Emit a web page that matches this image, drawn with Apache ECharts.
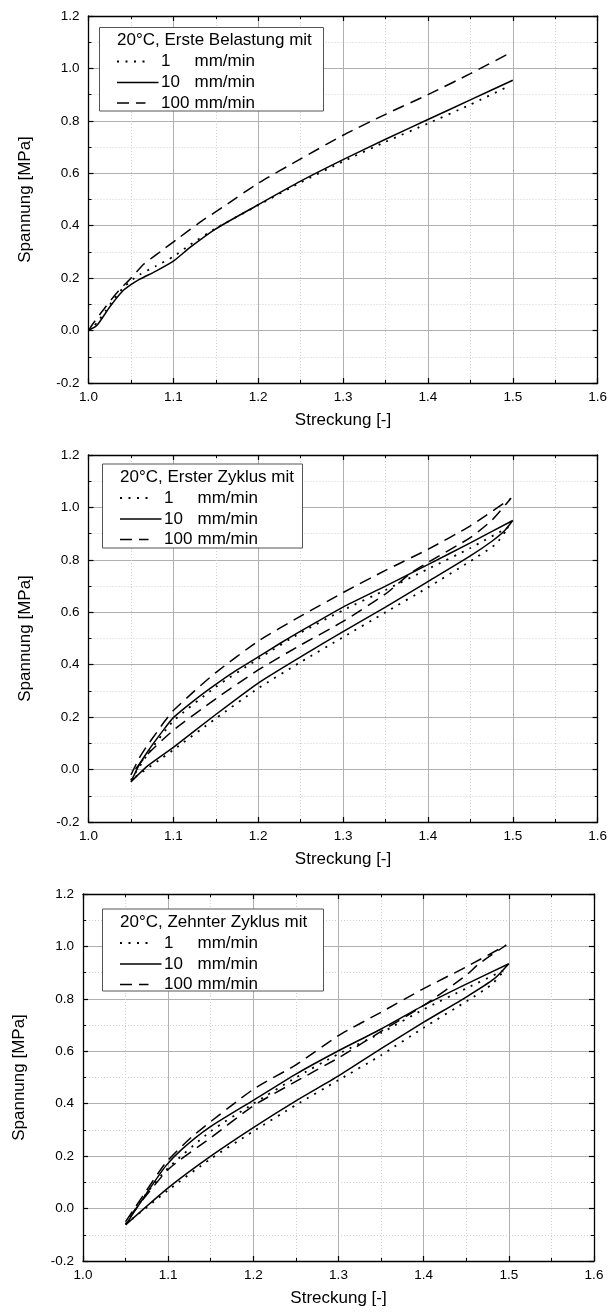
<!DOCTYPE html>
<html><head><meta charset="utf-8">
<script src="https://cdn.jsdelivr.net/npm/echarts@6/dist/echarts.min.js"></script>
<style>html,body{margin:0;padding:0;background:#fff}#c{width:610px;height:1313px}</style>
</head><body><div id="c"></div>
<script>
// ---------- text ----------
const panelTitles = ['20°C, Erste Belastung mit', '20°C, Erster Zyklus mit', '20°C, Zehnter Zyklus mit'];
const rateLabels = ['1', '10', '100'];
const unitLabel = 'mm/min';
const xName = 'Streckung [-]';
const yName = 'Spannung [MPa]';
const xRange = [1.0, 1.6, 0.1];
const yRange = [-0.2, 1.2, 0.2];

// ---------- data: panel 1, Erste Belastung ----------
const p1_1mm = [[1.0,0.0],[1.01,0.03],[1.02,0.075],[1.03,0.12],[1.04,0.16],[1.05,0.19],[1.06,0.213],[1.08,0.247],[1.1,0.282],[1.12,0.328],[1.15,0.39],[1.2,0.478],[1.25,0.565],[1.3,0.645],[1.35,0.72],[1.4,0.79],[1.45,0.862],[1.495,0.932]];
const p1_10mm = [[1.0,0.0],[1.01,0.02],[1.025,0.09],[1.04,0.15],[1.05,0.175],[1.06,0.195],[1.08,0.228],[1.1,0.265],[1.12,0.318],[1.15,0.388],[1.2,0.48],[1.25,0.57],[1.3,0.652],[1.35,0.73],[1.4,0.805],[1.45,0.88],[1.5,0.955]];
const p1_100mm = [[1.0,0.0],[1.005,0.025],[1.02,0.09],[1.035,0.15],[1.05,0.2],[1.065,0.253],[1.085,0.302],[1.105,0.35],[1.13,0.41],[1.16,0.475],[1.2,0.562],[1.25,0.655],[1.3,0.745],[1.35,0.825],[1.4,0.9],[1.45,0.98],[1.495,1.056]];

// ---------- data: panel 2, Erster Zyklus ----------
const p2_1mm = [[1.05,-0.04],[1.07,0.06],[1.1,0.185],[1.15,0.315],[1.2,0.422],[1.25,0.522],[1.3,0.608],[1.35,0.685],[1.4,0.765],[1.45,0.845],[1.495,0.925],[1.48,0.86],[1.45,0.795],[1.4,0.695],[1.35,0.6],[1.3,0.505],[1.25,0.41],[1.2,0.31],[1.15,0.195],[1.1,0.075],[1.05,-0.04]];
const p2_10mm = [[1.05,-0.047],[1.06,0.02],[1.07,0.07],[1.08,0.115],[1.09,0.158],[1.1,0.198],[1.125,0.265],[1.15,0.325],[1.175,0.38],[1.2,0.43],[1.225,0.48],[1.25,0.528],[1.3,0.62],[1.35,0.70],[1.4,0.782],[1.45,0.865],[1.5,0.95],[1.49,0.91],[1.475,0.87],[1.45,0.815],[1.4,0.717],[1.35,0.62],[1.3,0.526],[1.25,0.43],[1.2,0.33],[1.15,0.21],[1.1,0.085],[1.07,0.015],[1.05,-0.047]];
const p2_100mm = [[1.05,-0.02],[1.06,0.045],[1.07,0.095],[1.08,0.14],[1.09,0.185],[1.1,0.225],[1.125,0.3],[1.15,0.37],[1.2,0.49],[1.25,0.585],[1.3,0.675],[1.35,0.76],[1.4,0.84],[1.45,0.93],[1.498,1.035],[1.475,0.95],[1.45,0.885],[1.4,0.79],[1.38,0.75],[1.35,0.67],[1.3,0.565],[1.25,0.475],[1.2,0.38],[1.15,0.27],[1.1,0.15],[1.07,0.06],[1.05,-0.02]];

// ---------- data: panel 3, Zehnter Zyklus ----------
const p3_1mm = [[1.05,-0.06],[1.075,0.06],[1.1,0.155],[1.15,0.295],[1.2,0.4],[1.25,0.5],[1.3,0.59],[1.35,0.67],[1.4,0.76],[1.45,0.84],[1.495,0.91],[1.48,0.855],[1.45,0.79],[1.4,0.69],[1.35,0.585],[1.3,0.49],[1.25,0.395],[1.2,0.295],[1.15,0.19],[1.1,0.07],[1.05,-0.06]];
const p3_10mm = [[1.05,-0.062],[1.075,0.06],[1.097,0.162],[1.116,0.226],[1.148,0.309],[1.2,0.413],[1.25,0.513],[1.3,0.602],[1.35,0.685],[1.4,0.775],[1.45,0.856],[1.5,0.934],[1.483,0.877],[1.45,0.807],[1.4,0.711],[1.35,0.61],[1.3,0.506],[1.25,0.411],[1.2,0.309],[1.15,0.2],[1.1,0.079],[1.05,-0.062]];
const p3_100mm = [[1.05,-0.05],[1.074,0.066],[1.097,0.174],[1.129,0.277],[1.2,0.455],[1.25,0.548],[1.3,0.66],[1.35,0.749],[1.4,0.839],[1.45,0.922],[1.497,1.005],[1.465,0.934],[1.45,0.89],[1.4,0.775],[1.35,0.676],[1.3,0.575],[1.25,0.485],[1.2,0.392],[1.15,0.27],[1.1,0.149],[1.05,-0.05]];

const panelData = [[p1_1mm, p1_10mm, p1_100mm], [p2_1mm, p2_10mm, p2_100mm], [p3_1mm, p3_10mm, p3_100mm]];

// ---------- layout ----------
const grids = [
  {left: 88.5, top: 16, width: 510.5, height: 367},
  {left: 88.5, top: 455, width: 510.5, height: 367},
  {left: 83, top: 894, width: 511, height: 367}
];
const legendBoxes = [
  {x: 99.5, y: 27.5, w: 224, h: 83.5},
  {x: 102.5, y: 464, w: 200, h: 84},
  {x: 102.5, y: 909, w: 221, h: 82}
];
const FONT = 'Arial, "Liberation Sans", sans-serif';
const lineTypes = [[2, 6.5], 'solid', [12, 7]];
const lineWidths = [1.8, 1.5, 1.5];

const xAxes = [], yAxes = [], series = [], graphics = [];
const fmt = v => v.toFixed(1);
grids.forEach((g, i) => {
  const common = {
    gridIndex: i, type: 'value',
    axisLine: {show: true, onZero: false, lineStyle: {color: '#000', width: 1.3}},
    axisTick: {show: true, inside: true, length: 5, lineStyle: {color: '#000', width: 1.2}},
    minorTick: {show: true, splitNumber: 2, length: 3, lineStyle: {color: '#000', width: 1}},
  };
  xAxes.push(Object.assign({}, common, {
    position: 'bottom', min: xRange[0], max: xRange[1], interval: xRange[2],
    axisLabel: {show: true, formatter: fmt, color: '#000', fontSize: 13.5, fontFamily: FONT, margin: 7},
    splitLine: {show: true, lineStyle: {color: '#b0b0b0', width: 1}},
    minorSplitLine: {show: true, lineStyle: {color: '#d0d0d0', width: 1, type: [1, 2]}},
    name: xName, nameLocation: 'middle', nameGap: 29,
    nameTextStyle: {color: '#000', fontSize: 17, fontFamily: FONT}
  }));
  xAxes.push(Object.assign({}, common, {
    position: 'top', min: xRange[0], max: xRange[1], interval: xRange[2],
    axisLabel: {show: false}, splitLine: {show: false}
  }));
  yAxes.push(Object.assign({}, common, {
    position: 'left', min: yRange[0], max: yRange[1], interval: yRange[2],
    axisLabel: {show: true, formatter: fmt, color: '#000', fontSize: 13.5, fontFamily: FONT, margin: 9},
    splitLine: {show: true, lineStyle: {color: '#b0b0b0', width: 1}},
    minorSplitLine: {show: true, lineStyle: {color: '#d0d0d0', width: 1, type: [1, 2]}},
    name: yName, nameLocation: 'middle', nameGap: 55,
    nameTextStyle: {color: '#000', fontSize: 17, fontFamily: FONT}
  }));
  yAxes.push(Object.assign({}, common, {
    position: 'right', min: yRange[0], max: yRange[1], interval: yRange[2],
    axisLabel: {show: false}, splitLine: {show: false}
  }));
  panelData[i].forEach((d, k) => {
    series.push({
      type: 'line', xAxisIndex: 2 * i, yAxisIndex: 2 * i, data: d,
      showSymbol: false, symbol: 'none', smooth: 0.2, animation: false,
      lineStyle: {color: '#000', width: lineWidths[k], type: lineTypes[k], cap: 'butt'},
      z: 5
    });
  });
  // legend box
  const b = legendBoxes[i];
  const cx = b.x + 17.5;
  const rowY = [b.y + 13, b.y + 34, b.y + 55, b.y + 75.5];
  graphics.push({type: 'rect', shape: {x: b.x, y: b.y, width: b.w, height: b.h},
    style: {fill: '#fff', stroke: '#555', lineWidth: 1}, z: 10});
  graphics.push({type: 'text', x: cx, y: rowY[0], style: {text: panelTitles[i], font: '17px ' + FONT, fill: '#000', verticalAlign: 'middle'}, z: 11});
  const sampleEnd = [cx + 32, cx + 41.5, cx + 28.5];
  rateLabels.forEach((r, k) => {
    graphics.push({type: 'line', shape: {x1: cx, y1: rowY[k + 1], x2: sampleEnd[k], y2: rowY[k + 1]},
      style: {stroke: '#000', lineWidth: lineWidths[k], lineDash: k === 1 ? null : lineTypes[k]}, z: 11});
    graphics.push({type: 'text', x: cx + 44, y: rowY[k + 1], style: {text: r, font: '17px ' + FONT, fill: '#000', verticalAlign: 'middle'}, z: 11});
    graphics.push({type: 'text', x: cx + 77.5, y: rowY[k + 1], style: {text: unitLabel, font: '17px ' + FONT, fill: '#000', verticalAlign: 'middle'}, z: 11});
  });
});

const chart = echarts.init(document.getElementById('c'), null, {renderer: 'canvas'});
chart.setOption({
  animation: false,
  backgroundColor: '#fff',
  grid: grids.map(g => Object.assign({containLabel: false}, g)),
  xAxis: xAxes, yAxis: yAxes, series: series, graphic: graphics
});
</script></body></html>
